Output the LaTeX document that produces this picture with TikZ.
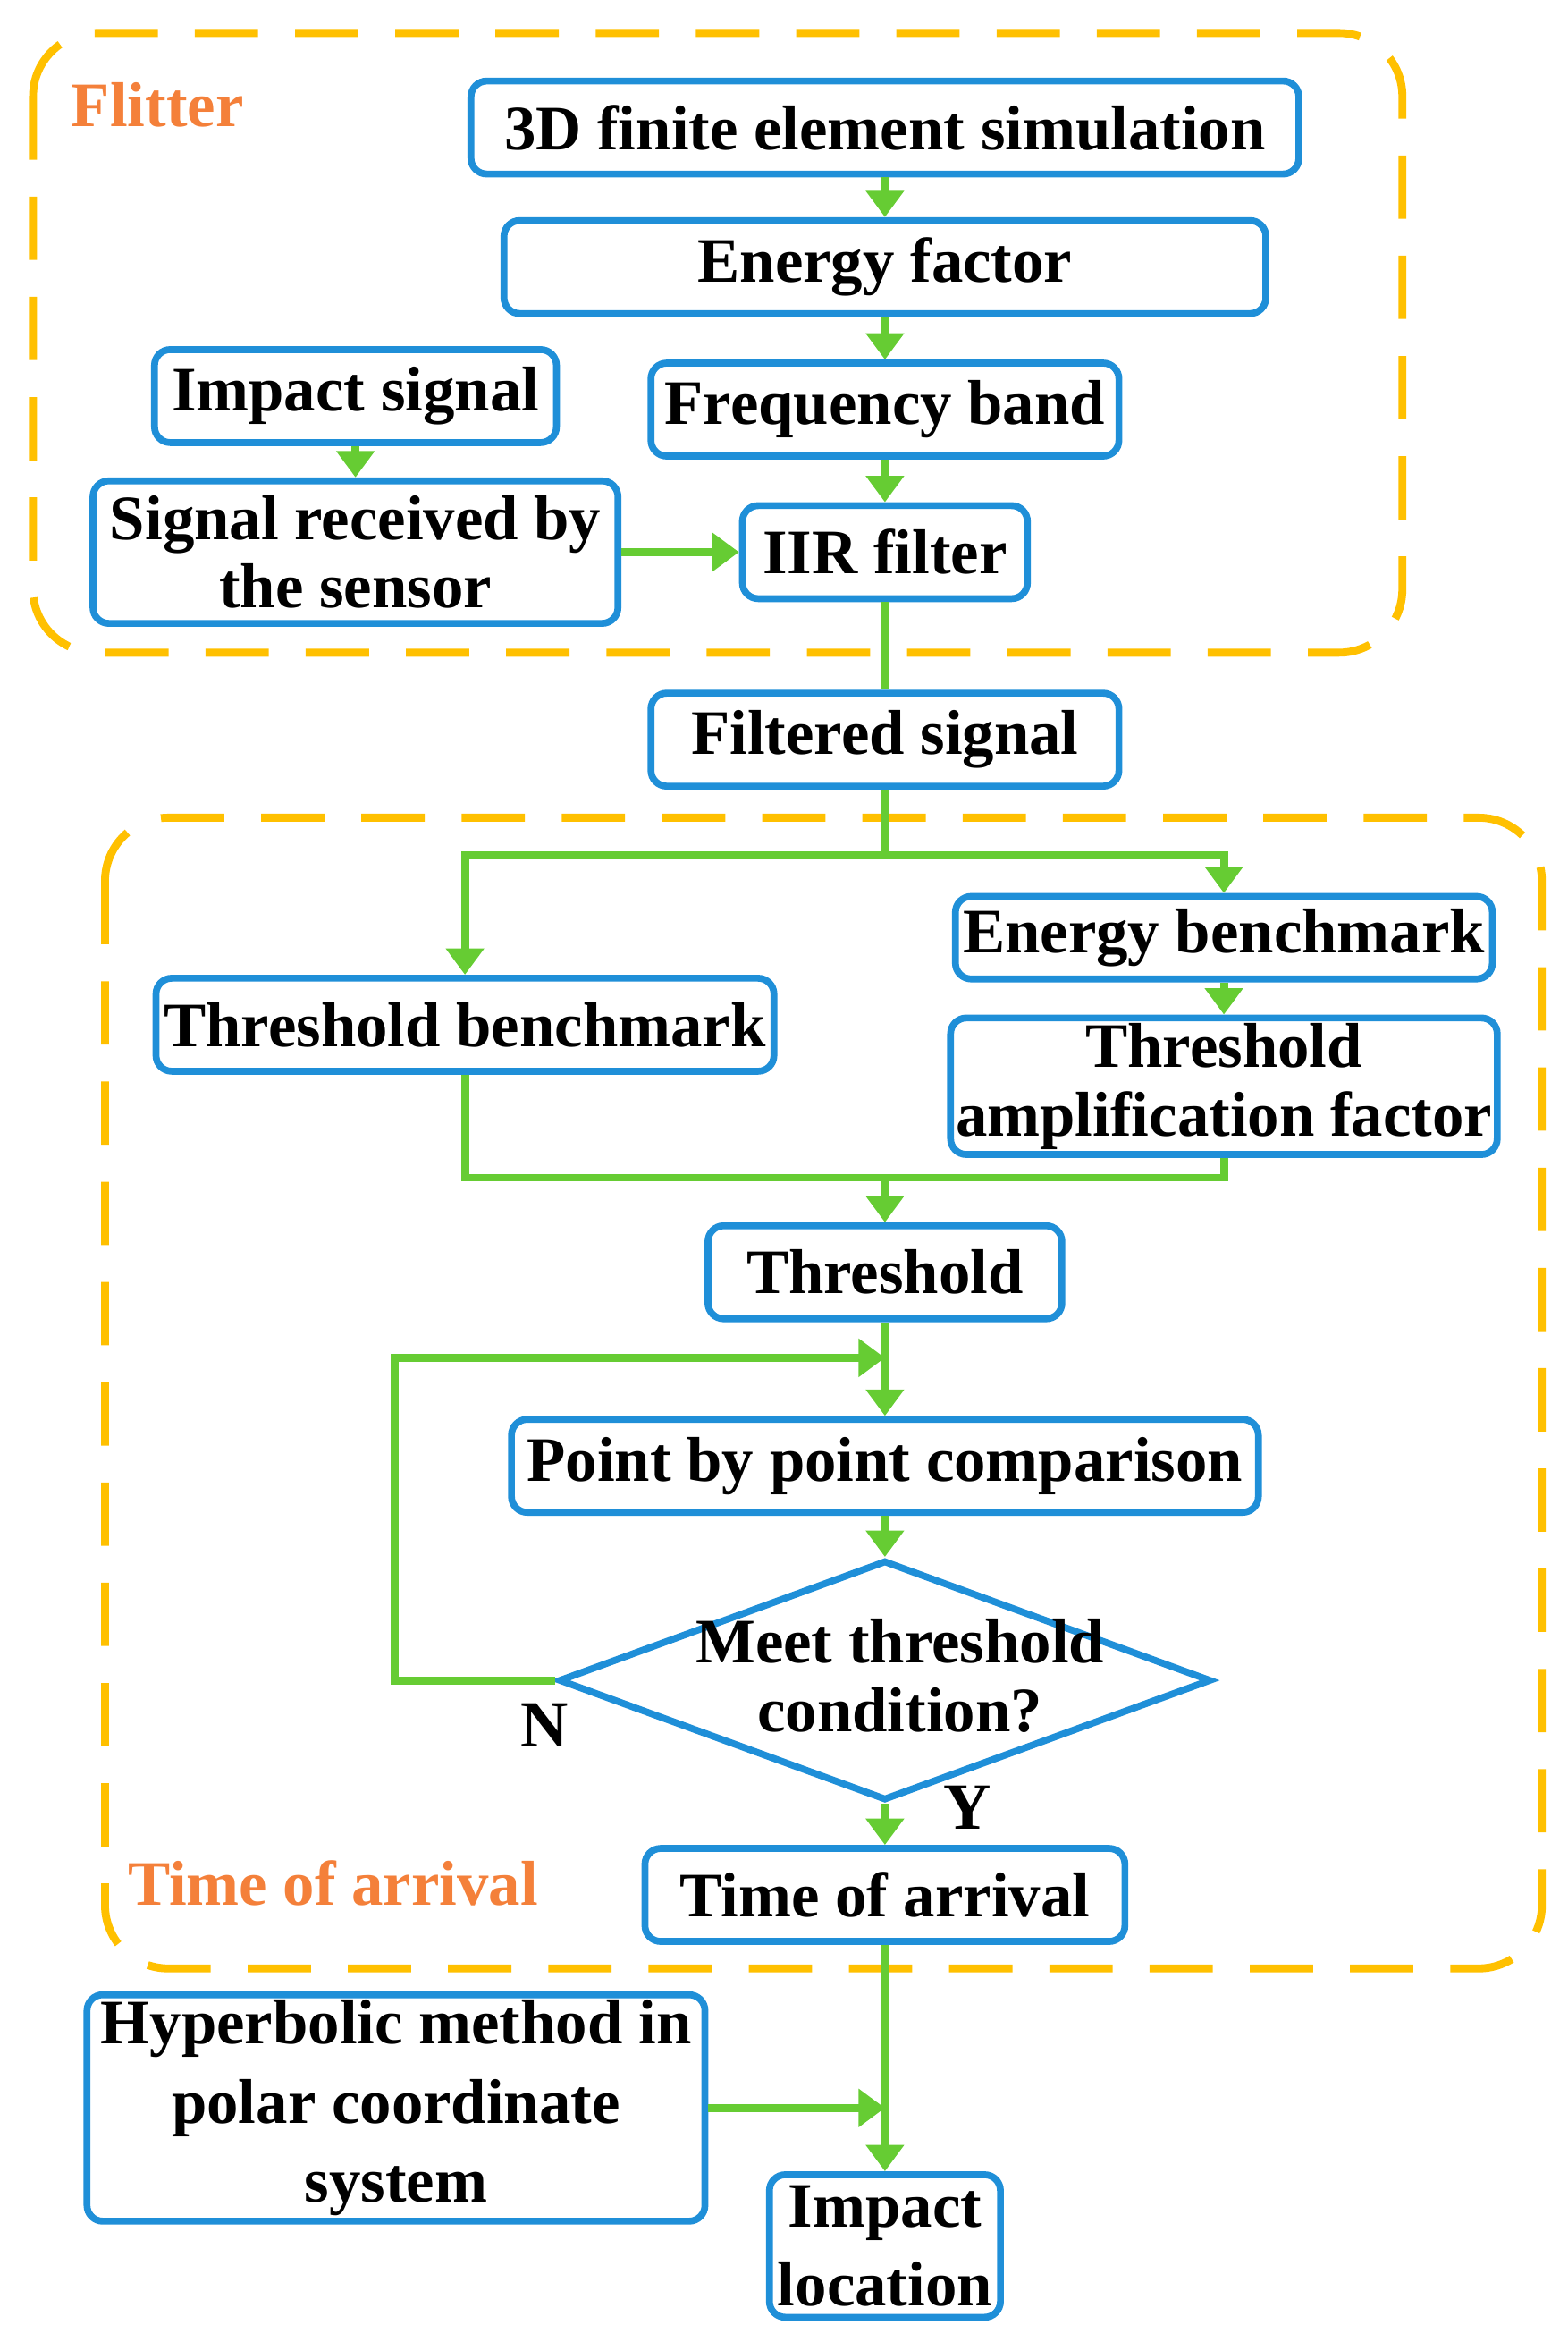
\documentclass[tikz,border=0pt]{standalone}
\usepackage{fontspec}
\setmainfont{Liberation Serif}
\usetikzlibrary{shapes.geometric,arrows.meta}
\definecolor{bblue}{HTML}{1F8FD8}
\definecolor{ggreen}{HTML}{66CC33}
\definecolor{oorange}{HTML}{FFC000}
\definecolor{lab}{HTML}{F4803A}
\begin{document}
\begin{tikzpicture}[x=0.01cm,y=-0.01cm,
 box/.style={draw=bblue,line width=1.3pt,rounded corners=3pt,minimum height=#1*0.01cm,align=center,inner sep=1pt,font=\bfseries\fontsize{12}{13}\selectfont},
 box/.default=62,
 ln/.style={ggreen,line width=1.5pt},
 ar/.style={ln,-{Triangle[length=5pt,width=7pt]}},
 grp/.style={draw=oorange,line width=1.5pt,dash pattern=on 12pt off 7pt,rounded corners=12pt},
 lbl/.style={text=lab,font=\bfseries\fontsize{12}{14}\selectfont}]
\useasboundingbox (0,0) rectangle (1045,1561);
\draw[grp] (22,22) rectangle (935,435);
\draw[grp] (70,545) rectangle (1028,1312);
\node[lbl] (fl) at (105,70) {Flitter};
\node[lbl] (tl) at (222,1255) {Time of arrival};
\node[box,minimum width=552*0.01cm] (sim) at (590,85) {3D finite element simulation};
\node[box,minimum width=508*0.01cm] (ef) at (590,178) {Energy factor};
\node[box,minimum width=268*0.01cm] (is) at (237,264) {Impact signal};
\node[box,minimum width=312*0.01cm] (fb) at (590,273) {Frequency band};
\node[box=95,minimum width=350*0.01cm] (sr) at (237,368) {Signal received by\\the sensor};
\node[box,minimum width=190*0.01cm] (iir) at (590,368) {IIR filter};
\node[box,minimum width=312*0.01cm] (fs) at (590,493) {Filtered signal};
\node[box=55,minimum width=358*0.01cm] (eb) at (816,625) {Energy benchmark};
\node[box,minimum width=412*0.01cm] (tb) at (310,683) {Threshold benchmark};
\node[box=82,minimum width=358*0.01cm] (ta) at (816,724) {Threshold\\amplification factor};
\node[box,minimum width=236*0.01cm] (th) at (590,848) {Threshold};
\node[box,minimum width=498*0.01cm] (pp) at (590,977) {Point by point comparison};
\node[draw=bblue,line width=1.3pt,diamond,aspect=2.72,minimum width=435*0.01cm,minimum height=160*0.01cm,inner sep=0pt] (dm) at (590,1120) {};
\node[align=center,font=\bfseries\fontsize{12}{13}\selectfont] (dt) at (600,1117) {Meet threshold\\condition?};
\node[box,minimum width=320*0.01cm] (toa) at (590,1263) {Time of arrival};
\node[box=140,minimum width=412*0.01cm] (hy) at (264,1405) {Hyperbolic method in\\[2pt]polar coordinate\\[2pt]system};
\node[box=95,minimum width=154*0.01cm] (il) at (590,1497) {Impact\\[2pt]location};
\node[font=\bfseries\fontsize{12.5}{14}\selectfont] (nl) at (363,1150) {N};
\node[font=\bfseries\fontsize{12.5}{14}\selectfont] (yl) at (645,1205) {Y};
\coordinate (s1) at (590,570);
\coordinate (s2) at (590,785);
\coordinate (l1) at (263,1120);
\coordinate (l2) at (263,905);
\coordinate (l3) at (590,905);
\coordinate (h1) at (590,1405);
\draw[ar] (sim) -- (ef);
\draw[ar] (ef) -- (fb);
\draw[ar] (fb) -- (iir);
\draw[ar] (is) -- (sr);
\draw[ar] (sr) -- (iir);
\draw[ln] (iir) -- (fs);
\draw[ln] (fs) -- (s1);
\draw[ar] (s1) -| (tb);
\draw[ar] (s1) -| (eb);
\draw[ar] (eb) -- (ta);
\draw[ln] (tb) |- (s2) -| (ta);
\draw[ar] (s2) -- (th);
\draw[ar] (th) -- (pp);
\draw[ar] (pp) -- (dm);
\draw[ar] (dm.west) -- (l1) -- (l2) -- (l3);
\draw[ar] (dm) -- (toa);
\draw[ar] (toa) -- (il);
\draw[ar] (hy.east) -- (h1);
\end{tikzpicture}
\end{document}
